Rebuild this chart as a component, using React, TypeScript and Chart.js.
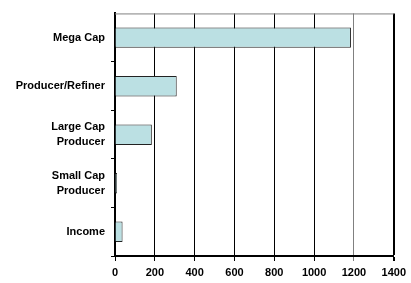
import React, { useEffect, useRef } from "react";
import { Chart, registerables } from "chart.js";

Chart.register(...registerables);

const categories: (string | string[])[] = [
  "Mega Cap",
  "Producer/Refiner",
  ["Large Cap", "Producer"],
  ["Small Cap", "Producer"],
  "Income",
];
const values: number[] = [1185, 310, 185, 10, 38];
const xTicks: number[] = [0, 200, 400, 600, 800, 1000, 1200, 1400];

const topBorder = {
  id: "topBorder",
  afterDraw(chart: any) {
    const { ctx, chartArea } = chart;
    ctx.save();
    ctx.strokeStyle = "#808080";
    ctx.lineWidth = 1;
    ctx.beginPath();
    ctx.moveTo(chartArea.left, chartArea.top + 0.5);
    ctx.lineTo(chartArea.right, chartArea.top + 0.5);
    ctx.stroke();
    ctx.restore();
  },
};

export default function App() {
  const ref = useRef<HTMLCanvasElement | null>(null);
  useEffect(() => {
    document.body.style.margin = "0";
    const font = { family: "'Liberation Sans', Arial, sans-serif", size: 11, weight: "bold" as const, lineHeight: 1.35 };
    const chart = new Chart(ref.current as HTMLCanvasElement, {
      type: "bar",
      data: {
        labels: categories,
        datasets: [
          {
            data: values,
            backgroundColor: "rgb(187,224,227)",
            borderColor: "#222222",
            borderWidth: 1,
            barPercentage: 0.42,
            categoryPercentage: 1,
          },
        ],
      },
      options: {
        indexAxis: "y",
        animation: false,
        responsive: false,
        maintainAspectRatio: false,
        layout: { padding: { left: 0, right: 17, top: 5, bottom: 0 } },
        plugins: { legend: { display: false }, tooltip: { enabled: false } },
        scales: {
          x: {
            min: 0,
            max: 1400,
            afterBuildTicks: (axis: any) => {
              axis.ticks = xTicks.map((v) => ({ value: v }));
            },
            afterFit: (axis: any) => {
              axis.height = 27;
            },
            ticks: { color: "#000", font, padding: 5, callback: (v: any) => String(v) },
            grid: {
              color: (c: any) => (c.index === 6 ? "#808080" : "#000"),
              lineWidth: (c: any) => (c.index === 7 ? 2 : 1),
              tickLength: 5,
              drawTicks: true,
            },
            border: { color: "#000", width: 2 },
          },
          y: {
            afterFit: (axis: any) => {
              axis.width = 115;
            },
            ticks: { color: "#000", font, padding: 6 },
            grid: {
              offset: true,
              drawOnChartArea: false,
              drawTicks: true,
              tickLength: 4,
              color: (c: any) => (c.index === 0 ? "rgba(0,0,0,0)" : "#000"),
            },
            border: { color: "#000", width: 2 },
          },
        },
      },
      plugins: [topBorder],
    });
    return () => chart.destroy();
  }, []);
  return (
    <div style={{ position: "fixed", left: 0, top: 0, width: 411, height: 283, background: "#fff" }}>
      <canvas ref={ref} width={411} height={283} style={{ width: 411, height: 283 }} />
    </div>
  );
}
